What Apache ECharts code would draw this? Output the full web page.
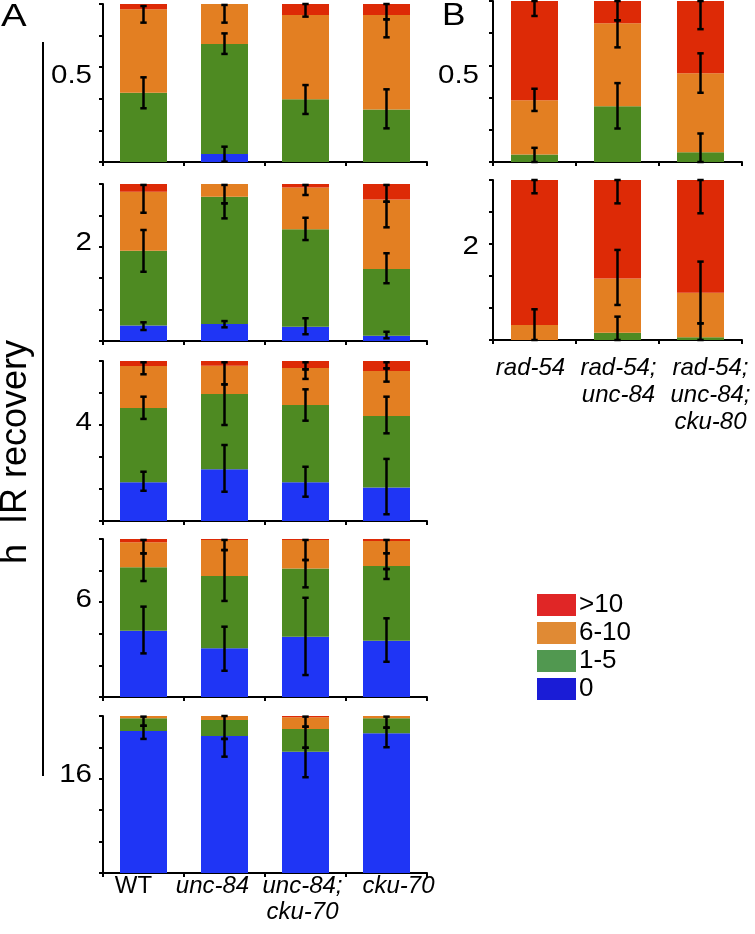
<!DOCTYPE html>
<html>
<head>
<meta charset="utf-8">
<script src="https://cdn.jsdelivr.net/npm/echarts@6/dist/echarts.min.js"></script>
<style>html,body{margin:0;padding:0;background:#fff;}#c{width:755px;height:934px;}</style>
</head>
<body>
<div id="c"></div>
<script>
// ---------- DATA ----------
const strainsA = ['WT', 'unc-84', 'unc-84;\ncku-70', 'cku-70'];
const strainsB = ['rad-54', 'rad-54;\nunc-84', 'rad-54;\nunc-84;\ncku-80'];
const timesA = ['0.5', '2', '4', '6', '16'];
const timesB = ['0.5', '2'];
const classes = ['0', '1-5', '6-10', '>10'];

// percent of nuclei per class (rows = h IR recovery, cols = strain)
const zeroA = [[0, 5.1, 0, 0], [9.8, 10.8, 9.1, 3.4], [24.2, 32.3, 24.2, 21.0], [42.0, 30.8, 38.2, 35.6], [90.4, 87.3, 77.3, 89.0]];
const oneToFiveA = [[43.9, 69.6, 39.7, 33.3], [47.7, 81.1, 62.0, 42.5], [46.4, 47.1, 48.3, 44.6], [40.1, 45.8, 43.2, 47.3], [8.1, 10.2, 14.4, 9.5]];
const sixToTenA = [[52.7, 25.3, 53.3, 59.7], [37.6, 8.1, 26.6, 44.3], [26.3, 17.7, 23.1, 28.2], [15.8, 22.8, 18.0, 15.8], [1.5, 2.5, 7.5, 1.5]];
const overTenA = [[3.4, 0, 7.0, 7.0], [4.9, 0, 2.3, 9.8], [3.1, 2.9, 4.4, 6.2], [2.1, 0.6, 0.6, 1.3], [0, 0, 0.8, 0]];

const zeroB = [[0, 0, 0], [0, 0, 0]];
const oneToFiveB = [[4.7, 34.6, 6.0], [0, 4.6, 1.7]];
const sixToTenB = [[33.6, 51.6, 49.1], [9.4, 33.9, 27.9]];
const overTenB = [[61.7, 13.8, 44.9], [90.6, 61.5, 70.4]];

// error bars: [strain index, low, high] (cumulative %)
const errA = [
  [[0, 34, 53.6], [0, 88.2, 98.7], [1, 0.2, 9.7], [1, 68.4, 81.4], [1, 88.2, 99.4], [2, 30.4, 48.7], [2, 92, 100], [3, 21.3, 46], [3, 78.9, 90.3], [3, 90.3, 100]],
  [[0, 7, 11.9], [0, 44.1, 70.7], [0, 81.7, 99.4], [1, 8.7, 12.7], [1, 78.1, 87.7], [1, 87.7, 99.4], [2, 4.3, 14.5], [2, 64.3, 78.5], [2, 93, 99.4], [3, 1.7, 5.9], [3, 36.8, 55.9], [3, 72.4, 88.7], [3, 88.7, 99.4]],
  [[0, 18.9, 30.8], [0, 63.8, 77.7], [0, 91.7, 99.2], [1, 18.3, 47.5], [1, 60, 85.4], [1, 85.4, 99.2], [2, 15.2, 33.9], [2, 62.7, 82.3], [2, 88.8, 94.8], [2, 94.8, 99.2], [3, 4.2, 38.8], [3, 54.8, 77.7], [3, 87.1, 95.4], [3, 95.4, 99.2]],
  [[0, 27.6, 57.2], [0, 73.4, 90.9], [0, 90.9, 99.4], [1, 16.6, 44.5], [1, 60.8, 93], [1, 93, 99.4], [2, 13.9, 62.8], [2, 69.4, 86.7], [2, 86.7, 99.4], [3, 22.3, 49.8], [3, 74.7, 81], [3, 81, 91], [3, 91, 99.4]],
  [[0, 85.4, 93.8], [0, 93.8, 99.6], [1, 74.1, 85.4], [1, 85.4, 100], [2, 61, 79.8], [2, 79.8, 93.2], [2, 93.2, 99.6], [3, 80.1, 92.6], [3, 92.6, 99.6]]
];
const errB = [
  [[0, 0, 8.8], [0, 31.7, 45.5], [0, 90.7, 100], [1, 20.8, 49], [1, 71.2, 88], [1, 88, 100], [2, 0, 17.7], [2, 43, 67.5], [2, 82.5, 100]],
  [[0, 0, 19.2], [0, 91.7, 100], [1, 0, 14.6], [1, 21.9, 56.3], [1, 85.4, 100], [2, 0, 10.4], [2, 10.4, 49], [2, 79.2, 100]]
];

// ---------- STYLE / LAYOUT ----------
const colors = { '0': '#1f35f5', '1-5': '#4e8a22', '6-10': '#e37f22', '>10': '#dd2a06' };
const legendColors = { '>10': '#e02626', '6-10': '#e08a34', '1-5': '#519850', '0': '#1a1cd6' };
const FONT = 'Liberation Sans, Arial, Helvetica, sans-serif';
const gridA = { left: 103, width: 324, tops: [4, 184, 361, 539, 716], heights: [158, 157, 160, 158, 157] };
const gridB = { left: 493, width: 249, tops: [1, 180], heights: [161, 160] };
const rowLabelYA = [76, 243, 423, 600, 775];
const rowLabelYB = [76, 247];
// horizontal nudges of category labels (px, + = right)
const labelShiftA = [-10, -12, -3, 12];
const labelShiftB = [-4, 1, 10];

const grids = [], xAxes = [], yAxes = [], series = [];
const axisLine = { show: true, lineStyle: { color: '#000', width: 2 } };
const axisTick = { show: true, inside: false, length: 4, lineStyle: { color: '#000', width: 2 } };

function makeLabel(panel, fontSize, lh) {
  const shifts = panel === 'A' ? labelShiftA : labelShiftB;
  const rich = {};
  shifts.forEach((s, i) => {
    const pad = s >= 0 ? [0, 0, 0, 2 * s] : [0, -2 * s, 0, 0];
    rich['n' + i] = { fontFamily: FONT, fontSize: fontSize, color: '#000', lineHeight: lh, padding: pad };
    rich['i' + i] = { fontFamily: FONT, fontSize: fontSize, fontStyle: 'italic', color: '#000', lineHeight: lh, padding: pad };
  });
  return {
    show: true, interval: 0, margin: panel === 'A' ? 0 : 15, lineHeight: lh,
    formatter: function (v, idx) {
      const tag = (v === 'WT' ? 'n' : 'i') + idx;
      return v.split('\n').map(s => '{' + tag + '|' + s + '}').join('\n');
    },
    rich: rich
  };
}

function addPanel(panel, cats, dataSets, errs, rowIdx, isBottom) {
  const g = panel === 'A' ? gridA : gridB;
  const gi = grids.length;
  grids.push({ left: g.left, width: g.width, top: g.tops[rowIdx], height: g.heights[rowIdx], containLabel: false });
  xAxes.push({
    type: 'category', gridIndex: gi, data: cats, boundaryGap: true,
    axisLine: axisLine, axisTick: axisTick,
    axisLabel: isBottom ? (panel === 'A' ? makeLabel('A', 24, 26) : makeLabel('B', 24, 27)) : { show: false }
  });
  yAxes.push({
    type: 'value', gridIndex: gi, min: 0, max: 100, interval: 20,
    axisLine: axisLine, axisTick: axisTick, axisLabel: { show: false }, splitLine: { show: false }
  });
  const stackName = panel + rowIdx;
  classes.forEach((cls, k) => {
    series.push({
      name: cls, type: 'bar', stack: stackName, xAxisIndex: gi, yAxisIndex: gi,
      barWidth: 47, data: dataSets[k][rowIdx], itemStyle: { color: colors[cls] },
      emphasis: { disabled: true }, animation: false
    });
  });
  series.push({
    type: 'custom', xAxisIndex: gi, yAxisIndex: gi, z: 10, animation: false,
    data: errs[rowIdx],
    encode: { x: 0, y: [1, 2] },
    renderItem: function (params, api) {
      const lo = api.coord([api.value(0), api.value(1)]);
      const hi = api.coord([api.value(0), api.value(2)]);
      const x = lo[0], cw = 3.2;
      const st = { stroke: '#000', lineWidth: 2.5 };
      return {
        type: 'group', children: [
          { type: 'line', shape: { x1: x, y1: lo[1], x2: x, y2: hi[1] }, style: st },
          { type: 'line', shape: { x1: x - cw, y1: lo[1], x2: x + cw, y2: lo[1] }, style: st },
          { type: 'line', shape: { x1: x - cw, y1: hi[1], x2: x + cw, y2: hi[1] }, style: st }
        ]
      };
    }
  });
}

timesA.forEach((t, r) => addPanel('A', strainsA, [zeroA, oneToFiveA, sixToTenA, overTenA], errA, r, r === timesA.length - 1));
timesB.forEach((t, r) => addPanel('B', strainsB, [zeroB, oneToFiveB, sixToTenB, overTenB], errB, r, r === timesB.length - 1));

const graphics = [];
const txt = (s, x, y, size, align, extra) => Object.assign({
  type: 'text', x: x, y: y,
  style: { text: s, fontFamily: FONT, fontSize: size, fill: '#000', textAlign: align || 'left', textVerticalAlign: 'middle' }
}, extra || {});
graphics.push(txt('A', 1, 17, 32, 'left', { scaleX: 1.2 }));
graphics.push(txt('B', 442, 16, 32, 'left', { scaleX: 1.1 }));
timesA.forEach((t, r) => graphics.push(txt(t, 92, rowLabelYA[r], 25, 'right', { scaleX: 1.18 })));
timesB.forEach((t, r) => graphics.push(txt(t, 479, rowLabelYB[r], 25, 'right', { scaleX: 1.18 })));
graphics.push(txt('h  IR recovery', 16, 452, 36, 'center', { rotation: Math.PI / 2 }));
graphics.push({ type: 'line', shape: { x1: 43, y1: 42, x2: 43, y2: 776 }, style: { stroke: '#000', lineWidth: 2 } });

const legendData = ['>10', '6-10', '1-5', '0'].map(n => ({ name: n, itemStyle: { color: legendColors[n] } }));

const chart = echarts.init(document.getElementById('c'), null, { renderer: 'canvas' });
chart.setOption({
  backgroundColor: '#fff',
  animation: false,
  grid: grids, xAxis: xAxes, yAxis: yAxes, series: series,
  legend: {
    data: legendData, orient: 'vertical', left: 532, top: 587,
    itemWidth: 39, itemHeight: 22, itemGap: 2, icon: 'rect', selectedMode: false,
    textStyle: { fontFamily: FONT, fontSize: 26, lineHeight: 22, color: '#000', padding: [0, 0, 0, -2] }
  },
  graphic: graphics
});
</script>
</body>
</html>
